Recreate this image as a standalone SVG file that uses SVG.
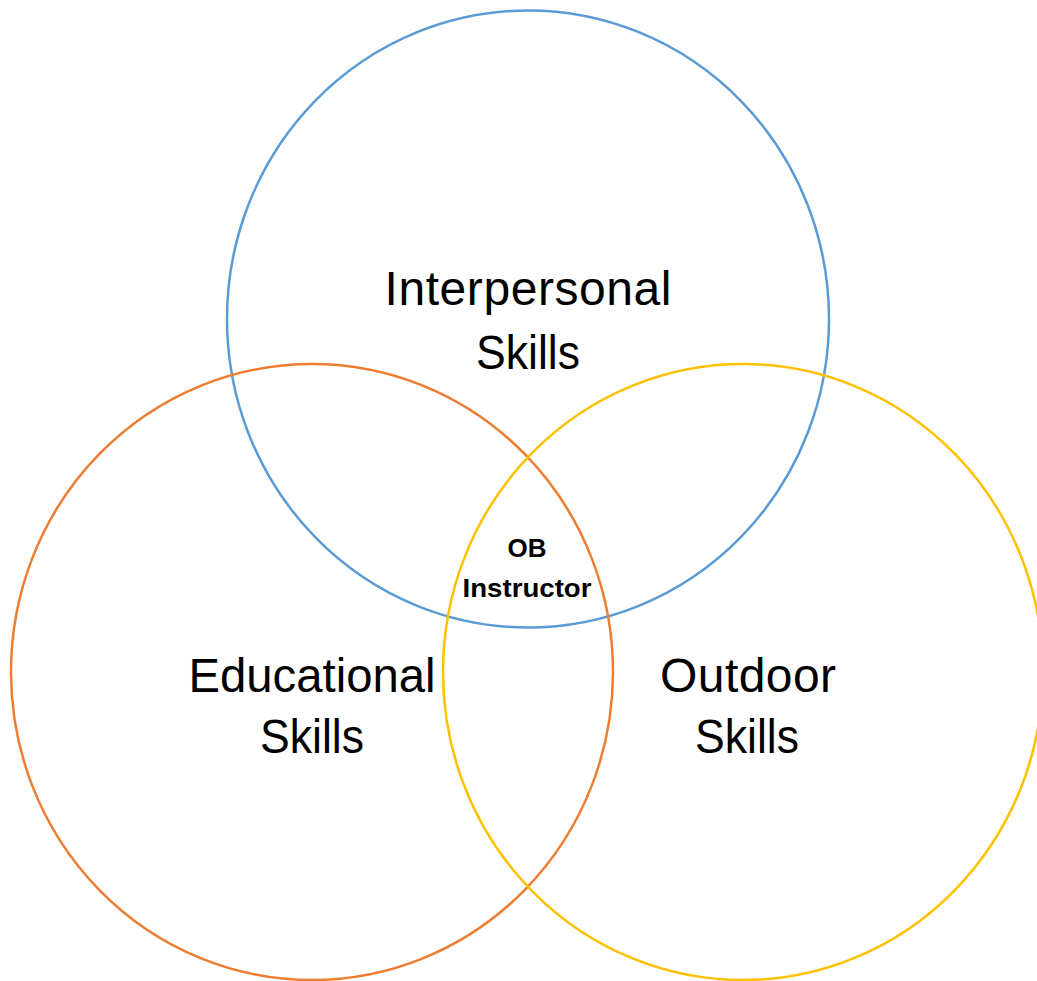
<svg xmlns="http://www.w3.org/2000/svg" width="1037" height="981" viewBox="0 0 1037 981">
<style>
.c{fill:none;stroke-width:2.5}
.t{font-family:"Liberation Sans",Arial,sans-serif;font-size:48px;fill:#000;text-anchor:middle}
.b{font-family:"Liberation Sans",Arial,sans-serif;font-size:26px;font-weight:bold;fill:#000;text-anchor:middle}
</style>
<rect width="1037" height="981" fill="#fff"/>
<g id="interpersonal">
<ellipse class="c" cx="528" cy="319" rx="301" ry="308.5" stroke="#5B9BD5"/>
<text class="t" x="528" y="305" textLength="287" lengthAdjust="spacing">Interpersonal</text>
<text class="t" x="528" y="369" textLength="104" lengthAdjust="spacingAndGlyphs">Skills</text>
</g>
<g id="educational">
<ellipse class="c" cx="312" cy="672" rx="301" ry="308" stroke="#ED7D31"/>
<text class="t" x="312" y="692" textLength="247" lengthAdjust="spacingAndGlyphs">Educational</text>
<text class="t" x="312" y="753" textLength="104" lengthAdjust="spacingAndGlyphs">Skills</text>
</g>
<g id="outdoor">
<ellipse class="c" cx="743" cy="672" rx="300" ry="308" stroke="#FFC000"/>
<text class="t" x="748" y="692" textLength="176" lengthAdjust="spacing">Outdoor</text>
<text class="t" x="747" y="753" textLength="104" lengthAdjust="spacingAndGlyphs">Skills</text>
</g>
<g id="ob-instructor">
<text class="b" x="527" y="557">OB</text>
<text class="b" x="527" y="597" textLength="129" lengthAdjust="spacingAndGlyphs">Instructor</text>
</g>
<g id="connectors"/>
</svg>
